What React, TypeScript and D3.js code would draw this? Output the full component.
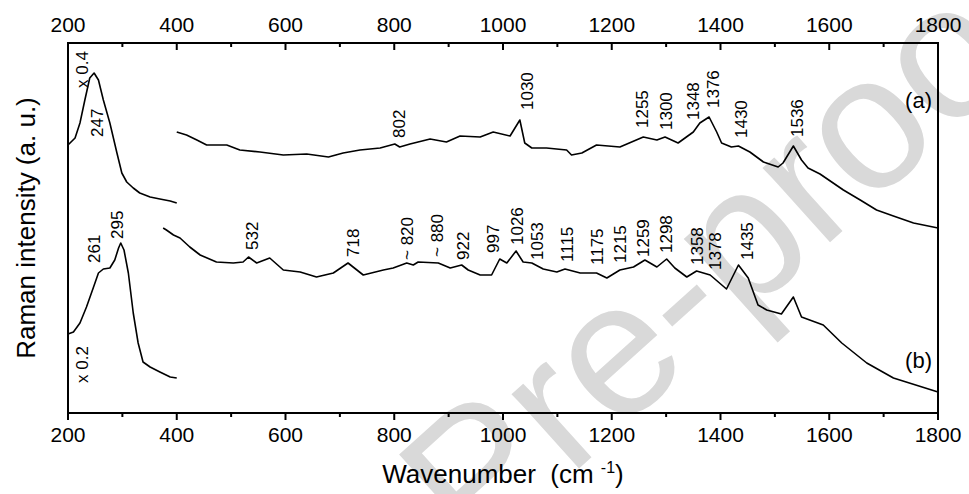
import * as d3 from 'd3';

const W = 969;
const H = 494;
const M = { left: 68, right: 31, top: 43, bottom: 81 };
const FONT = '"Liberation Sans", Arial, Helvetica, sans-serif';

// spectrum (a), x0.4 part
const aLowWn = [200, 213, 222, 231, 240, 248, 256, 265, 277, 290, 299, 308, 320, 332, 351, 369, 388, 400];
const aLowI = [268, 275, 290, 313, 335, 340, 333, 313, 290, 260, 240, 231, 225, 220, 216, 214, 212, 210];

// spectrum (a), 400-1800
const aWn = [400, 418, 437, 455, 492, 516, 553, 596, 639, 679, 706, 737, 774, 801, 810, 829, 866, 896, 921, 958, 982, 1013, 1031, 1040, 1053, 1080, 1117, 1126, 1145, 1172, 1215, 1258, 1283, 1298, 1322, 1350, 1362, 1379, 1393, 1402, 1420, 1433, 1454, 1479, 1506, 1515, 1534, 1549, 1561, 1583, 1626, 1657, 1687, 1718, 1755, 1800];
const aI = [281, 278, 273, 268, 268, 263, 261, 258, 259, 256, 260, 263, 265, 269, 266, 269, 274, 271, 277, 276, 281, 277, 293, 270, 265, 265, 263, 258, 260, 268, 266, 276, 273, 276, 270, 281, 290, 296, 281, 270, 266, 267, 261, 251, 246, 250, 267, 253, 245, 239, 223, 213, 203, 197, 190, 185];

// spectrum (b), x0.2 part
const bLowWn = [200, 210, 222, 234, 247, 256, 265, 277, 286, 293, 297, 303, 311, 320, 329, 338, 351, 369, 388, 400];
const bLowI = [79, 81, 90, 106, 126, 140, 144, 145, 153, 165, 170, 163, 140, 100, 70, 51, 46, 41, 36, 35];

// spectrum (b), 375-1800
const bWn = [375, 381, 394, 406, 424, 443, 473, 504, 522, 532, 547, 571, 596, 627, 657, 688, 715, 743, 780, 798, 823, 835, 844, 881, 903, 924, 936, 958, 979, 994, 1007, 1024, 1037, 1053, 1074, 1099, 1114, 1142, 1172, 1191, 1215, 1240, 1261, 1283, 1301, 1316, 1338, 1356, 1381, 1411, 1433, 1451, 1469, 1485, 1512, 1534, 1549, 1589, 1623, 1669, 1718, 1800];
const bI = [185, 183, 178, 175, 166, 158, 151, 150, 151, 156, 150, 155, 143, 141, 136, 140, 150, 138, 143, 145, 150, 148, 151, 150, 145, 148, 143, 138, 138, 154, 150, 162, 151, 150, 144, 141, 144, 140, 140, 135, 143, 146, 153, 146, 154, 145, 136, 142, 138, 124, 148, 135, 108, 103, 99, 116, 96, 88, 70, 50, 35, 21];

// peak annotations: text, wavenumber, intensity at the label's lower end
const peakText = ['x 0.4', '247', '802', '1030', '1255', '1300', '1348', '1376', '1430', '1536',
  '261', '295', 'x 0.2', '532', '718', '~ 820', '~ 880', '922', '997', '1026', '1053', '1115', '1175', '1215', '1259', '1298', '1358', '1378', '1435'];
const peakWn = [225, 253, 809, 1044, 1255, 1300, 1349, 1386, 1438, 1540,
  247, 290, 225, 538, 725, 823, 879, 927, 982, 1025, 1062, 1117, 1172, 1215, 1258, 1300, 1356, 1390, 1448];
const peakI = [325, 276, 275, 303, 285, 283, 293, 305, 275, 276,
  150, 174, 30, 163, 156, 153, 156, 153, 160, 168, 153, 151, 148, 150, 156, 160, 148, 143, 153];

const panelText = ['(a)', '(b)'];
const panelI = [312, 52];

export default function App() {
  const x = d3.scaleLinear().domain([200, 1800]).range([M.left, W - M.right]);
  const y = d3.scaleLinear().domain([0, 370]).range([H - M.bottom, M.top]);
  const line = d3.line<[number, number]>().x(d => x(d[0])).y(d => y(d[1]));

  const segs = [
    d3.zip(aLowWn, aLowI),
    d3.zip(aWn, aI),
    d3.zip(bLowWn, bLowI),
    d3.zip(bWn, bI),
  ] as [number, number][][];

  const major = x.ticks(8);
  const minor = x.ticks(16).filter(t => !major.includes(t));
  const top = M.top;
  const bottom = H - M.bottom;

  return (
    <svg width={W} height={H} style={{ position: 'absolute', left: 0, top: 0, background: '#fff' }} fontFamily={FONT}>
      {/* watermark */}
      <text transform="translate(475,562) rotate(-42)" fontSize={190} fill="#d9d9d9">Pre-proof</text>

      {segs.map((s, i) => (
        <path key={i} d={line(s) ?? ''} fill="none" stroke="#000" strokeWidth={1.6} strokeLinejoin="round" />
      ))}

      {/* frame */}
      <rect x={M.left} y={top} width={W - M.left - M.right} height={bottom - top} fill="none" stroke="#000" strokeWidth={2} />

      {major.map(t => (
        <g key={'M' + t}>
          <line x1={x(t)} x2={x(t)} y1={bottom} y2={bottom + 7} stroke="#000" strokeWidth={2} />
          <line x1={x(t)} x2={x(t)} y1={top} y2={top + 7} stroke="#000" strokeWidth={2} />
          <text x={x(t)} y={442} textAnchor="middle" fontSize={21}>{t}</text>
          <text x={x(t)} y={32} textAnchor="middle" fontSize={21}>{t}</text>
        </g>
      ))}
      {minor.map(t => (
        <g key={'m' + t}>
          <line x1={x(t)} x2={x(t)} y1={bottom} y2={bottom + 4} stroke="#000" strokeWidth={2} />
          <line x1={x(t)} x2={x(t)} y1={top} y2={top + 4} stroke="#000" strokeWidth={2} />
        </g>
      ))}

      {peakText.map((t, i) => (
        <text
          key={'p' + i}
          transform={`translate(${x(peakWn[i]) + 6},${y(peakI[i])}) rotate(-90)`}
          fontSize={17}
          style={{ whiteSpace: 'pre' }}
        >{t}</text>
      ))}

      {panelText.map((t, i) => (
        <text key={t} x={932} y={y(panelI[i]) + 7} textAnchor="end" fontSize={22}>{t}</text>
      ))}

      <text transform={`translate(35,${(top + bottom) / 2}) rotate(-90)`} textAnchor="middle" fontSize={26}>
        Raman intensity (a. u.)
      </text>
      <text x={(M.left + W - M.right) / 2} y={483} textAnchor="middle" fontSize={26} style={{ whiteSpace: 'pre' }}>
        <tspan>Wavenumber  (cm </tspan>
        <tspan dy={-10} fontSize={16}>-1</tspan>
        <tspan dy={10}>)</tspan>
      </text>
    </svg>
  );
}
